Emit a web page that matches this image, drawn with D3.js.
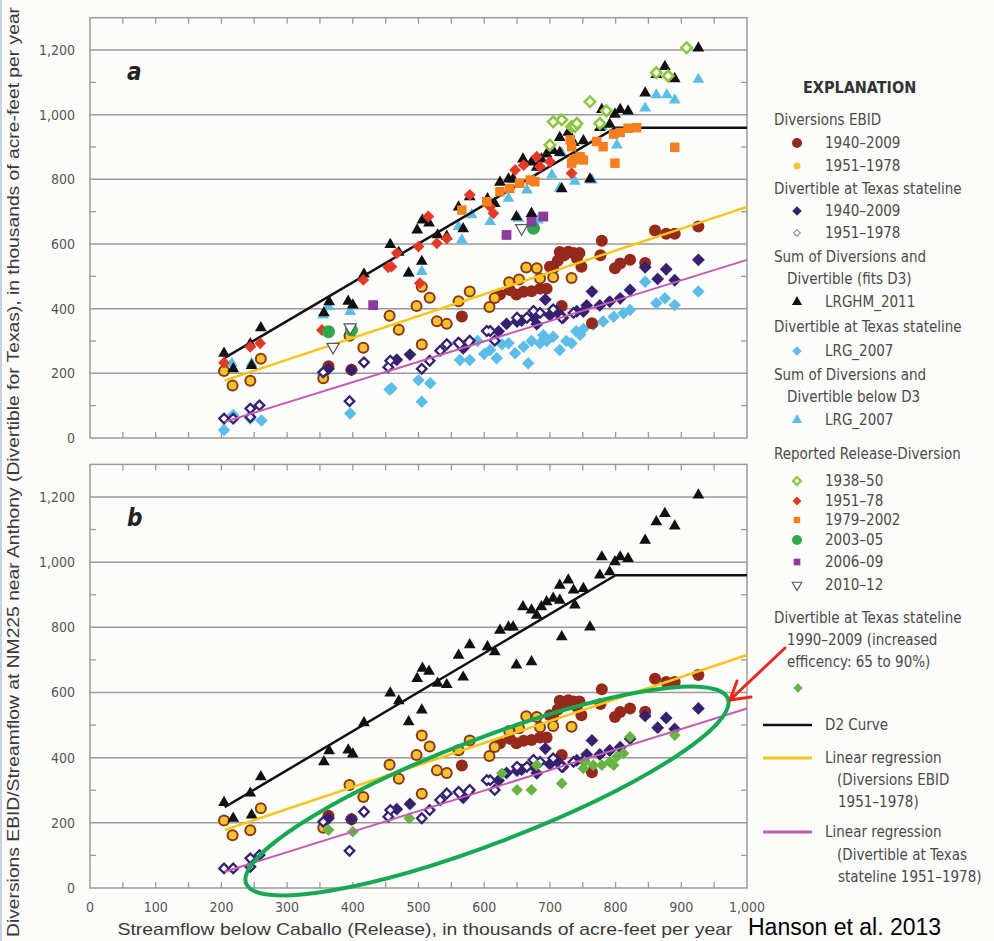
<!DOCTYPE html>
<html>
<head>
<meta charset="utf-8">
<script src="https://cdn.jsdelivr.net/npm/d3@7"></script>
<style>
  body { margin: 0; background: #fcfcfa; }
  svg text { font-family: "Liberation Sans Narrow", "DejaVu Sans Condensed", sans-serif; }
</style>
</head>
<body>
<svg id="chart" width="994" height="941"></svg>
<script>
// Axis ticks
const xTicks = [0, 100, 200, 300, 400, 500, 600, 700, 800, 900, 1000];
const yTicks = [0, 200, 400, 600, 800, 1000, 1200];

// Diversions EBID 1940-2009 (release, diversion) - years outside 1951-78
const ebid1940 = [[363,222],[398,211],[566,376],[624,444],[639,458],[649,444],[660,452],[672,454],[685,462],[695,462],
  [700,530],[705,525],[715,575],[722,565],[728,576],[736,572],[741,556],[748,530],[718,408],[764,355],[779,610],
  [777,565],[799,525],[807,540],[822,551],[845,541],[860,642],[877,632],[890,632],[926,654],[712,548],[745,572]];
// Diversions EBID 1951-1978
const ebid1951 = [[204,207],[217,162],[244,177],[260,245],[355,185],[395,316],[416,279],[456,378],[470,335],[497,408],
  [505,468],[517,434],[505,289],[528,361],[543,353],[561,423],[578,453],[608,405],[616,433],[638,482],[653,490],
  [664,527],[680,525],[685,493],[705,497],[733,495]];
// Divertible at Texas stateline 1940-2009
const div1940 = [[363,214],[398,211],[467,242],[487,258],[568,277],[622,330],[634,353],[657,363],[675,373],[680,352],
  [693,428],[720,372],[741,392],[751,391],[756,410],[764,453],[776,410],[791,422],[807,432],[822,458],[845,528],
  [864,492],[877,522],[890,488],[926,551],[700,380],[710,392],[650,360]];
// Divertible at Texas stateline 1951-1978
const div1951 = [[204,60],[218,60],[244,91],[258,101],[244,65],[395,114],[417,234],[355,203],[454,219],[505,214],
  [517,239],[533,270],[561,295],[576,295],[604,331],[457,239],[543,290],[563,290],[578,301],[616,301],[609,331],
  [650,372],[665,372],[685,387],[705,398],[718,372],[736,387],[675,393]];
// Sum of diversions and divertible, LRGHM_2011
const sumLRGHM = [[204,262],[218,214],[244,291],[246,224],[260,341],[356,387],[364,421],[393,423],[400,411],[417,507],
  [457,598],[470,574],[485,510],[505,546],[498,643],[506,674],[516,665],[529,628],[543,624],[561,714],[568,647],
  [578,746],[605,740],[616,725],[624,791],[637,801],[644,801],[649,684],[672,694],[659,863],[672,853],[680,837],
  [687,863],[695,878],[705,889],[715,883],[718,771],[715,929],[728,945],[736,914],[738,868],[751,919],[761,801],
  [776,960],[779,1016],[791,970],[799,1001],[807,1016],[819,1011],[845,1067],[862,1124],[875,1149],[890,1111],[926,1206]];
// Divertible at Texas stateline, LRG_2007
const divLRG = [[204,25],[218,71],[244,60],[261,54],[396,76],[456,150],[459,154],[500,179],[505,112],[518,169],
  [563,241],[578,241],[609,272],[619,247],[637,293],[647,262],[660,282],[667,231],[685,293],[705,313],[715,272],
  [733,293],[746,319],[751,337],[766,350],[781,360],[797,375],[812,386],[822,396],[845,483],[862,417],[875,432],
  [890,411],[926,453],[353,200],[600,260],[590,300],[695,300],[725,300],[627,290],[672,300],[690,318],[740,330]];
// Sum of diversions and divertible below D3, LRG_2007
const sumLRG = [[216,231],[246,231],[355,380],[363,406],[396,391],[485,509],[505,515],[561,654],[566,612],[581,690],
  [609,669],[637,741],[652,679],[665,767],[672,695],[682,674],[703,813],[715,772],[718,881],[738,794],[764,798],
  [779,963],[802,906],[845,1020],[862,1061],[878,1061],[890,1045],[926,1109]];
// Reported release-diversion
const rep1938 = [[700,906],[705,978],[718,984],[733,963],[738,963],[741,973],[761,1040],[776,973],[786,1012],
  [862,1130],[880,1120],[908,1207]];
const rep1951 = [[204,233],[244,282],[259,293],[353,334],[416,489],[454,528],[467,572],[459,530],[500,592],[502,479],
  [515,685],[528,602],[543,617],[578,752],[609,715],[614,695],[647,829],[660,844],[680,870],[685,839],[700,855],[733,819]];
const rep1979 = [[566,705],[604,731],[624,762],[639,772],[654,788],[670,798],[677,793],[731,922],[733,901],[736,860],
  [741,865],[746,870],[751,860],[733,850],[771,917],[781,901],[797,940],[807,945],[819,958],[832,960],[799,850],[890,899]];
const rep2003 = [[363,329],[398,334],[675,649]];
const rep2006 = [[431,411],[634,628],[672,669],[690,685]];
const rep2010 = [[370,282],[396,342],[657,649]];
// Divertible at Texas stateline 1990-2009 (increased efficiency)
const divEff = [[363,178],[400,173],[486,214],[627,352],[650,301],[672,301],[680,377],[718,321],[751,367],[753,387],
  [766,377],[779,377],[791,387],[797,377],[802,403],[812,413],[822,464],[890,469]];

// Curves
const d2Curve = [[205,248],[800,960],[1000,960]];
const regEbid = [[205,178],[1000,715]];
const regDiv = [[205,50],[1000,551]];

const C = {
  brown: '#952a1c', yellow: '#f6c232', ring: '#8a3a12', purple: '#35216f', blue: '#5cbde6',
  black: '#111', green38: '#8dc63f', red: '#e23a26', orange: '#f47f20', green03: '#2ea84a',
  purple06: '#8e3a9d', greenEff: '#68b443', regY: '#f5c518', regP: '#c25bb5',
  grid: '#9a9a9a', text: '#4a4a4a'
};

const svg = d3.select('#chart');
svg.append('rect').attr('width', 994).attr('height', 941).attr('fill', '#fcfcfa');
svg.append('rect').attr('x', 0).attr('width', 2).attr('height', 941).attr('fill', '#c5d3e0');

const x = d3.scaleLinear().domain([0, 1000]).range([90, 747]);

const sq = (s) => d3.symbol(d3.symbolSquare, s)();
const tri = (s) => d3.symbol(d3.symbolTriangle, s)();
const circ = (r) => d3.symbol(d3.symbolCircle, Math.PI * r * r)();

// draw a set of markers
function marks(g, data, y, path, fill, opt = {}) {
  g.append('g').selectAll('path')
    .data(data)
    .enter()
    .append('path')
    .attr('transform', d => `translate(${x(d[0])},${y(d[1])}) rotate(${opt.rotate || 0})`)
    .attr('d', path)
    .attr('fill', fill)
    .attr('stroke', opt.stroke || 'none')
    .attr('stroke-width', opt.sw || 0);
}

function curve(g, data, y, color, width) {
  g.append('path')
    .datum(data)
    .attr('d', d3.line().x(d => x(d[0])).y(d => y(d[1])))
    .attr('fill', 'none')
    .attr('stroke', color)
    .attr('stroke-width', width);
}

function drawPanel(top, bottom, letter, showX) {
  const y = d3.scaleLinear().domain([0, 1300]).range([bottom, top]);
  const g = svg.append('g');

  // grid lines
  g.selectAll('.grid')
    .data(yTicks.filter(t => t > 0))
    .enter()
    .append('line')
    .attr('x1', 90).attr('x2', 747)
    .attr('y1', d => y(d)).attr('y2', d => y(d))
    .attr('stroke', C.grid).attr('stroke-width', 1.5);

  // frame
  g.append('rect')
    .attr('x', 90).attr('y', top).attr('width', 657).attr('height', bottom - top)
    .attr('fill', 'none').attr('stroke', C.grid).attr('stroke-width', 1.5);

  // inward ticks on top and bottom every 50
  const xMinor = d3.range(50, 1000, 50);
  xMinor.forEach(v => {
    g.append('line').attr('x1', x(v)).attr('x2', x(v)).attr('y1', top).attr('y2', top + 6)
      .attr('stroke', C.grid).attr('stroke-width', 1.3);
    g.append('line').attr('x1', x(v)).attr('x2', x(v)).attr('y1', bottom).attr('y2', bottom - 6)
      .attr('stroke', C.grid).attr('stroke-width', 1.3);
  });
  // inward ticks left and right at odd hundreds
  d3.range(100, 1300, 200).forEach(v => {
    g.append('line').attr('x1', 90).attr('x2', 96).attr('y1', y(v)).attr('y2', y(v))
      .attr('stroke', C.grid).attr('stroke-width', 1.3);
    g.append('line').attr('x1', 747).attr('x2', 741).attr('y1', y(v)).attr('y2', y(v))
      .attr('stroke', C.grid).attr('stroke-width', 1.3);
  });

  // y labels
  g.selectAll('.ylab')
    .data(yTicks)
    .enter()
    .append('text')
    .attr('x', 75).attr('y', d => y(d) + 5)
    .attr('text-anchor', 'end')
    .attr('font-size', 14)
    .attr('fill', '#555')
    .text(d => d3.format(',')(d));

  if (showX) {
    g.selectAll('.xlab')
      .data(xTicks)
      .enter()
      .append('text')
      .attr('x', d => x(d)).attr('y', bottom + 24)
      .attr('text-anchor', 'middle')
      .attr('font-size', 14)
      .attr('fill', '#555')
      .text(d => d3.format(',')(d));
  }

  // panel letter
  g.append('text')
    .attr('x', 127).attr('y', top + 62)
    .attr('font-size', 24).attr('font-weight', 'bold').attr('font-style', 'italic')
    .attr('fill', '#222')
    .text(letter);

  return { g, y };
}

// ---------- panel a ----------
const pa = drawPanel(17.7, 438, 'a', false);
marks(pa.g, divLRG, pa.y, sq(78), C.blue, { rotate: 45 });
marks(pa.g, sumLRG, pa.y, tri(60), C.blue);
marks(pa.g, ebid1940, pa.y, circ(6), C.brown);
marks(pa.g, ebid1951, pa.y, circ(6), C.ring);
marks(pa.g, ebid1951, pa.y, circ(4), C.yellow);
marks(pa.g, div1940, pa.y, sq(82), C.purple, { rotate: 45 });
marks(pa.g, div1951, pa.y, sq(82), C.purple, { rotate: 45 });
marks(pa.g, div1951, pa.y, sq(20), '#fff', { rotate: 45 });
marks(pa.g, sumLRGHM, pa.y, tri(60), C.black);
curve(pa.g, regEbid, pa.y, C.regY, 2.5);
curve(pa.g, regDiv, pa.y, C.regP, 2);
curve(pa.g, d2Curve, pa.y, C.black, 2.5);
marks(pa.g, rep1951, pa.y, sq(70), C.red, { rotate: 45 });
marks(pa.g, rep1979, pa.y, sq(90), C.orange);
marks(pa.g, rep1938, pa.y, sq(55), '#fff', { rotate: 45, stroke: C.green38, sw: 2.6 });
marks(pa.g, rep2003, pa.y, circ(6.5), C.green03);
marks(pa.g, rep2006, pa.y, sq(95), C.purple06);
marks(pa.g, rep2010, pa.y, tri(65), '#fff', { rotate: 180, stroke: '#555', sw: 1.2 });

// ---------- panel b ----------
const pb = drawPanel(464.4, 888, 'b', true);
marks(pb.g, ebid1940, pb.y, circ(6), C.brown);
marks(pb.g, ebid1951, pb.y, circ(6), C.ring);
marks(pb.g, ebid1951, pb.y, circ(4), C.yellow);
marks(pb.g, div1940, pb.y, sq(82), C.purple, { rotate: 45 });
marks(pb.g, div1951, pb.y, sq(82), C.purple, { rotate: 45 });
marks(pb.g, div1951, pb.y, sq(20), '#fff', { rotate: 45 });
marks(pb.g, divEff, pb.y, sq(70), C.greenEff, { rotate: 45 });
marks(pb.g, sumLRGHM, pb.y, tri(60), C.black);
curve(pb.g, regEbid, pb.y, C.regY, 2.5);
curve(pb.g, regDiv, pb.y, C.regP, 2);
curve(pb.g, d2Curve, pb.y, C.black, 2.5);

// ---------- annotations ----------
svg.append('ellipse')
  .attr('cx', 487).attr('cy', 791).attr('rx', 258).attr('ry', 52)
  .attr('transform', 'rotate(-21 487 791)')
  .attr('fill', 'none').attr('stroke', '#17a853').attr('stroke-width', 4);
svg.append('path')
  .attr('d', 'M785,648 L730,700 M751,697 L730,700 L737,681')
  .attr('fill', 'none').attr('stroke', '#e8291c').attr('stroke-width', 3)
  .attr('stroke-linecap', 'round').attr('stroke-linejoin', 'round');

// ---------- axis titles ----------
svg.append('text')
  .attr('transform', 'translate(19,472) rotate(-90)')
  .attr('text-anchor', 'middle')
  .attr('font-size', 17)
  .attr('fill', '#3a3a3a')
  .attr('textLength', 930).attr('lengthAdjust', 'spacingAndGlyphs')
  .style('font-family', '"Liberation Sans", Arial, sans-serif')
  .text('Diversions EBID/Streamflow at NM225 near Anthony (Divertible for Texas), in thousands of acre-feet per year');

svg.append('text')
  .attr('x', 425).attr('y', 935)
  .attr('text-anchor', 'middle')
  .attr('font-size', 17)
  .attr('fill', '#3a3a3a')
  .attr('textLength', 615).attr('lengthAdjust', 'spacingAndGlyphs')
  .style('font-family', '"Liberation Sans", Arial, sans-serif')
  .text('Streamflow below Caballo (Release), in thousands of acre-feet per year');

svg.append('text')
  .attr('x', 748).attr('y', 935)
  .attr('font-size', 23)
  .attr('fill', '#000')
  .style('font-family', '"Liberation Sans", Arial, sans-serif')
  .text('Hanson et al. 2013');

// ---------- legend ----------
const lg = svg.append('g').attr('fill', C.text).attr('font-size', 15);
const legendText = [
  ['EXPLANATION', 803, 88, true],
  ['Diversions EBID', 774, 120],
  ['1940–2009', 825, 143],
  ['1951–1978', 825, 166],
  ['Divertible at Texas stateline', 774, 189],
  ['1940–2009', 825, 211],
  ['1951–1978', 825, 233],
  ['Sum of Diversions and', 774, 257],
  ['Divertible (fits D3)', 787, 279],
  ['LRGHM_2011', 825, 302],
  ['Divertible at Texas stateline', 774, 327],
  ['LRG_2007', 825, 351],
  ['Sum of Diversions and', 774, 375],
  ['Divertible below D3', 787, 397],
  ['LRG_2007', 825, 420],
  ['Reported Release-Diversion', 774, 454],
  ['1938–50', 825, 481],
  ['1951–78', 825, 501],
  ['1979–2002', 825, 520],
  ['2003–05', 825, 540],
  ['2006–09', 825, 562],
  ['2010–12', 825, 585],
  ['Divertible at Texas stateline', 774, 618],
  ['1990–2009 (increased', 787, 640],
  ['efficency: 65 to 90%)', 787, 662],
  ['D2 Curve', 825, 725],
  ['Linear regression', 825, 758],
  ['(Diversions EBID', 837, 780],
  ['1951–1978)', 838, 802],
  ['Linear regression', 825, 832],
  ['(Divertible at Texas', 837, 855],
  ['stateline 1951–1978)', 838, 877]
];
legendText.forEach(([t, tx, ty, bold]) => {
  lg.append('text')
    .attr('x', tx).attr('y', ty + 5)
    .attr('font-weight', bold ? 'bold' : 'normal')
    .attr('font-size', bold ? 16 : 15)
    .attr('fill', bold ? '#333' : C.text)
    .text(t);
});

// legend markers
const lm = (path, fill, ly, opt = {}) => {
  lg.append('path')
    .attr('transform', `translate(${opt.x || 797},${ly}) rotate(${opt.rotate || 0})`)
    .attr('d', path)
    .attr('fill', fill)
    .attr('stroke', opt.stroke || 'none')
    .attr('stroke-width', opt.sw || 0);
};
lm(circ(5), C.brown, 143);
lm(circ(3.5), C.yellow, 166);
lm(sq(45), C.purple, 211, { rotate: 45 });
lm(sq(22), '#fff', 233, { rotate: 45, stroke: '#888', sw: 1 });
lm(tri(45), C.black, 302);
lm(sq(45), C.blue, 351, { rotate: 45 });
lm(tri(45), C.blue, 420);
lm(sq(30), '#fff', 481, { rotate: 45, stroke: C.green38, sw: 2.2 });
lm(sq(40), C.red, 501, { rotate: 45 });
lm(sq(40), C.orange, 520);
lm(circ(5), C.green03, 540);
lm(sq(45), C.purple06, 562);
lm(tri(40), '#fff', 585, { rotate: 180, stroke: '#555', sw: 1.1 });
lm(sq(45), C.greenEff, 688, { rotate: 45, x: 798 });

[[C.black, 725], [C.regY, 758], [C.regP, 832]].forEach(([col, ly]) => {
  lg.append('line')
    .attr('x1', 763).attr('x2', 812).attr('y1', ly).attr('y2', ly)
    .attr('stroke', col).attr('stroke-width', col === C.black ? 2.5 : 3);
});
</script>
</body>
</html>
